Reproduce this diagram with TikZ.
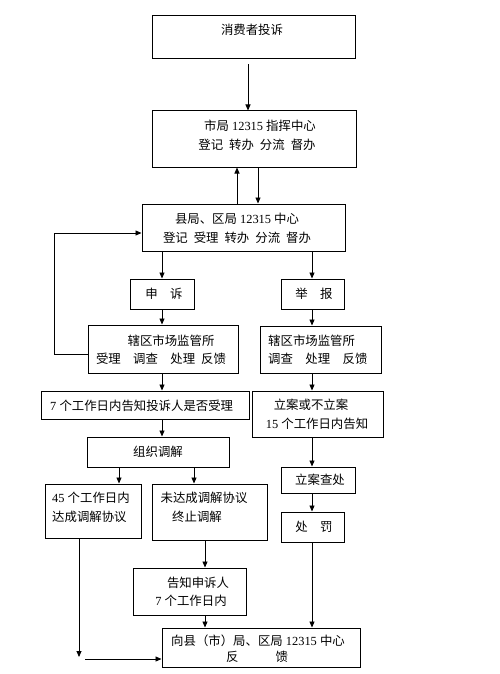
\documentclass[tikz,border=0pt]{standalone}
\usepackage{fontspec}
\setmainfont{Liberation Serif}
\newfontfamily\cjk{Noto Sans CJK SC}
\usetikzlibrary{arrows.meta}
\newcommand{\zh}[1]{{\cjk #1}}
\newcommand{\wsp}{\hspace{6pt}}
\tikzset{
  box/.style={draw, line width=1pt, inner sep=0pt, fill=white},
  txt/.style={inner sep=0pt, font=\fontsize{12.4}{14}\selectfont},
  arr/.style={line width=0.9pt, -{Triangle[length=6pt,width=5pt]}},
}
\newcommand{\bx}[5]{\node[box,minimum width={#4pt-#2pt},minimum height={#5pt-#3pt}] (#1) at ({(#2+#4)/2},{(#3+#5)/2}) {};}
\begin{document}
\begin{tikzpicture}[x=1pt,y=-1pt]
\useasboundingbox[fill=white] (0,0) rectangle (500,674);
% boxes
\bx{b1}{152}{16}{355}{59}
\bx{b2}{152}{111}{356}{167}
\bx{b3}{142}{204}{345}{251}
\bx{ss}{130}{279}{194}{309}
\bx{jb}{281}{279}{344}{309}
\bx{sa}{88}{325}{238}{373}
\bx{sb}{260}{326}{381}{373}
\bx{qr}{41}{391}{249}{419}
\bx{la}{252}{391}{383}{437}
\bx{zz}{87}{437}{229}{467}
\bx{lc}{281}{467}{355}{493}
\bx{da}{45}{484}{141}{538}
\bx{wd}{152}{484}{267}{540}
\bx{cf}{281}{512}{344}{542}
\bx{gz}{133}{568}{246}{615}
\bx{fk}{162}{628}{360}{667}
% column coordinates
\coordinate (x248) at (248,0);
\coordinate (x237) at (237,0);
\coordinate (x258) at (258,0);
\coordinate (x162) at (162,0);
\coordinate (x312) at (312,0);
\coordinate (x119) at (119,0);
\coordinate (x194) at (194,0);
\coordinate (x205) at (205,0);
\coordinate (e1s) at (79,538);
\coordinate (e1) at (79,657);
\coordinate (e2) at (85,659);
% texts
\node[txt] (t1) at (252,30) {\zh{消费者投诉}};
\node[txt] (t2a) at (260,126) {\zh{市局} 12315 \zh{指挥中心}};
\node[txt] (t2b) at (257,145) {\zh{登记\wsp 转办\wsp 分流\wsp 督办}};
\node[txt] (t3a) at (237,219) {\zh{县局、区局} 12315 \zh{中心}};
\node[txt] (t3b) at (237,238) {\zh{登记\wsp 受理\wsp 转办\wsp 分流\wsp 督办}};
\node[txt] (tss) at (164,294) {\zh{申　诉}};
\node[txt] (tjb) at (314,294) {\zh{举　报}};
\node[txt] (tsa1) at (171,341) {\zh{辖区市场监管所}};
\node[txt] (tsa2) at (161,359) {\zh{受理　调查　处理\wsp 反馈}};
\node[txt,anchor=west] (tsb1) at (268,341) {\zh{辖区市场监管所}};
\node[txt,anchor=west] (tsb2) at (268,359) {\zh{调查　处理　反馈}};
\node[txt,anchor=west] (tqr) at (50,406) {7 \zh{个工作日内告知投诉人是否受理}};
\node[txt] (tla1) at (311,405) {\zh{立案或不立案}};
\node[txt] (tla2) at (317,424) {15 \zh{个工作日内告知}};
\node[txt] (tzz) at (158,452) {\zh{组织调解}};
\node[txt] (tlc) at (320,480) {\zh{立案查处}};
\node[txt] (tcf) at (314,527) {\zh{处　罚}};
\node[txt,anchor=west] (tda1) at (52,498) {45 \zh{个工作日内}};
\node[txt,anchor=west] (tda2) at (52,517) {\zh{达成调解协议}};
\node[txt] (twd1) at (204,498) {\zh{未达成调解协议}};
\node[txt] (twd2) at (197,517) {\zh{终止调解}};
\node[txt] (tgz1) at (198,583) {\zh{告知申诉人}};
\node[txt] (tgz2) at (191,601) {7 \zh{个工作日内}};
\node[txt] (tfk1) at (258,641) {\zh{向县（市）局、区局} 12315 \zh{中心}};
\node[txt] (tfk2) at (257,657) {\zh{反　　　馈}};
% arrows
\draw[arr] ([yshift=-5pt]b1.south -| x248) -- (b2.north -| x248);
\draw[arr] (b3.north -| x237) -- (b2.south -| x237);
\draw[arr] (b2.south -| x258) -- (b3.north -| x258);
\draw[arr] (b3.south -| x162) -- (ss.north);
\draw[arr] (b3.south -| x312) -- (jb.north -| x312);
\draw[arr] (ss.south) -- (sa.north -| x162);
\draw[arr] (jb.south -| x312) -- (sb.north -| x312);
\draw[arr] ([yshift=-5pt]sa.west) -- ++(-33,0) |- ([yshift=-5.5pt]b3.west);
\draw[arr] (sa.south -| x162) -- (qr.north -| x162);
\draw[arr] (sb.south -| x312) -- (la.north -| x312);
\draw[arr] (qr.south -| x162) -- (zz.north -| x162);
\draw[arr] (zz.south -| x119) -- (da.north -| x119);
\draw[arr] (zz.south -| x194) -- (wd.north -| x194);
\draw[arr] (la.south -| x312) -- (lc.north -| x312);
\draw[arr] (lc.south -| x312) -- (cf.north -| x312);
\draw[arr] (cf.south -| x312) -- (fk.north -| x312);
\draw[arr] (wd.south -| x205) -- (gz.north -| x205);
\draw[arr] (gz.south -| x205) -- (fk.north -| x205);
\draw[arr] (e1s) -- (e1);
\draw[arr] (e2) -- (fk.west |- e2);
\end{tikzpicture}
\end{document}
